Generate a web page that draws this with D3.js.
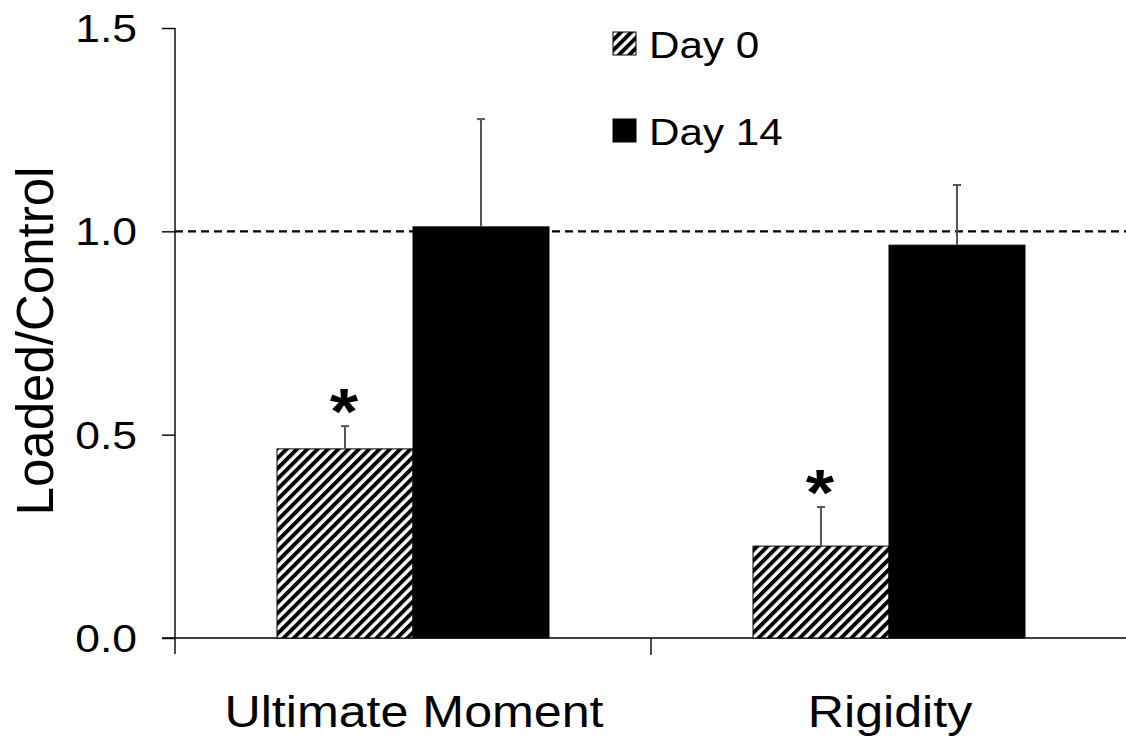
<!DOCTYPE html>
<html><head><meta charset="utf-8">
<script src="https://cdn.jsdelivr.net/npm/d3@7"></script>
<style>body{margin:0;background:#fff}svg{display:block}text{font-family:"Liberation Sans",Arial,sans-serif}</style>
</head><body>
<svg id="c" width="1126" height="745"></svg>
<script>
const categories = ["Ultimate Moment", "Rigidity"];
const seriesNames = ["Day 0", "Day 14"];
const day0 = [0.465, 0.226];
const day0Err = [0.056, 0.096];
const day14 = [1.011, 0.966];
const day14Err = [0.265, 0.148];
const yTicks = [0, 0.5, 1.0, 1.5];
const significant = [[true, false], [true, false]];

const SX = 1.14; // horizontal stretch of text seen in the reference
const svg = d3.select("#c");
const defs = svg.append("defs");
const pat = defs.append("pattern").attr("id","hatch").attr("patternUnits","userSpaceOnUse")
  .attr("width",7.3).attr("height",7.3).attr("patternTransform","rotate(45)");
pat.append("rect").attr("width",7.3).attr("height",7.3).attr("fill","#fff");
pat.append("rect").attr("width",3.9).attr("height",7.3).attr("fill","#000");

const x0 = d3.scaleBand().domain(categories).range([175, 1127]);
const x1 = d3.scaleBand().domain(seriesNames).range([0, 272]);
const y = d3.scaleLinear().domain([0, 1.5]).range([638, 28]);

// axes
const yAxis = d3.axisLeft(y).tickValues(yTicks).tickFormat(d3.format(".1f")).tickSize(13).tickPadding(0);
const gy = svg.append("g").attr("transform","translate(175,0)").call(yAxis);
gy.select(".domain").attr("d","M0,28V654").attr("stroke","#000").attr("stroke-width",1.4);
gy.selectAll(".tick line").attr("stroke","#000").attr("stroke-width",1.4);
gy.selectAll(".tick text").attr("x",0).attr("font-size",39).attr("fill","#000").attr("dy","0.35em")
  .attr("text-anchor","end").attr("transform",`translate(-38,0) scale(${SX},1)`);

const gx = svg.append("g");
gx.append("line").attr("x1",162).attr("x2",1127).attr("y1",y(0)).attr("y2",y(0)).attr("stroke","#000").attr("stroke-width",1.4);
const bounds = [x0(categories[1])];
gx.selectAll(".xt").data(bounds).enter().append("line")
  .attr("x1",d=>d).attr("x2",d=>d).attr("y1",y(0)).attr("y2",y(0)+17).attr("stroke","#000").attr("stroke-width",1.4);
gx.selectAll(".xl").data(categories).enter().append("text")
  .attr("transform",d=>`translate(${x0(d)+x0.bandwidth()/2+1},727) scale(${SX},1)`).attr("text-anchor","middle")
  .attr("font-size",44).attr("fill","#000").text(d=>d);

// y label
svg.append("text").attr("transform","translate(53,341) rotate(-90)").attr("text-anchor","middle")
  .attr("font-size",51).attr("fill","#000").text("Loaded/Control");

// bars
const data = [];
categories.forEach((c,i)=>{
  data.push({c, s:seriesNames[0], v:day0[i], e:day0Err[i], sig:significant[i][0]});
  data.push({c, s:seriesNames[1], v:day14[i], e:day14Err[i], sig:significant[i][1]});
});
const off = (x0.bandwidth()-272)/2;
const bx = d => x0(d.c)+off+x1(d.s);
svg.selectAll(".bar").data(data).enter().append("rect")
  .attr("x",bx).attr("y",d=>y(d.v)).attr("width",x1.bandwidth()).attr("height",d=>y(0)-y(d.v))
  .attr("fill",d=>d.s===seriesNames[0]?"url(#hatch)":"#000").attr("stroke","#000").attr("stroke-width",1);

// dashed reference line
svg.append("line").attr("x1",175).attr("x2",1126).attr("y1",y(1)).attr("y2",y(1))
  .attr("stroke","#000").attr("stroke-width",2.2).attr("stroke-dasharray","8,5");

// error bars
const eg = svg.selectAll(".err").data(data).enter().append("g").attr("stroke","#555").attr("stroke-width",2);
eg.append("line").attr("x1",d=>bx(d)+x1.bandwidth()/2).attr("x2",d=>bx(d)+x1.bandwidth()/2)
  .attr("y1",d=>y(d.v)).attr("y2",d=>y(d.v+d.e));
eg.append("line").attr("x1",d=>bx(d)+x1.bandwidth()/2-4).attr("x2",d=>bx(d)+x1.bandwidth()/2+4)
  .attr("y1",d=>y(d.v+d.e)).attr("y2",d=>y(d.v+d.e));

// asterisks
svg.selectAll(".ast").data(data.filter(d=>d.sig)).enter().append("text")
  .attr("transform",d=>`translate(${bx(d)+x1.bandwidth()/2-1},${y(d.v+d.e)+8}) scale(${SX},1)`)
  .attr("text-anchor","middle").attr("font-size",64).attr("font-weight","bold").attr("fill","#000").text("*");

// legend
const lg = svg.append("g");
const leg = [{s:seriesNames[0], y:32},{s:seriesNames[1], y:119}];
lg.selectAll("rect").data(leg).enter().append("rect")
  .attr("x",613).attr("y",d=>d.y).attr("width",23).attr("height",23)
  .attr("fill",d=>d.s===seriesNames[0]?"url(#hatch)":"#000").attr("stroke","#000").attr("stroke-width",1);
lg.selectAll("text").data(leg).enter().append("text")
  .attr("transform",d=>`translate(649,${d.y+25.5}) scale(${SX},1)`).attr("font-size",37).attr("fill","#000").text(d=>d.s);
</script>
</body></html>
